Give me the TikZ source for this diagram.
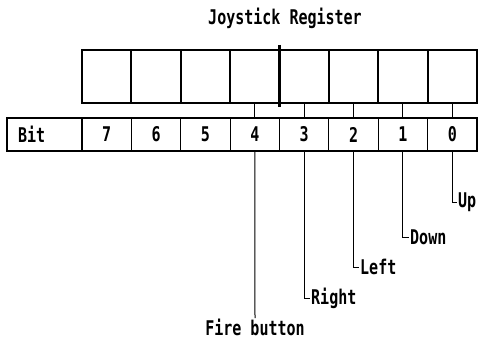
\documentclass[tikz,border=0pt]{standalone}
\usepackage{graphicx}
\usepackage{fontspec}
\setmainfont{DejaVu Sans Mono}
\newcommand\tallt[1]{\scalebox{1}[1.35]{#1}}
\begin{document}
\begin{tikzpicture}[x=1pt,y=-1pt,
  reg/.style={draw, line width=2.2pt, minimum width=49.375pt, minimum height=53pt, inner sep=0pt, outer sep=0pt, anchor=north west},
  bitc/.style={draw, line width=1.1pt, minimum width=49.375pt, minimum height=33pt, inner sep=0pt, outer sep=0pt, anchor=north west, font=\bfseries\fontsize{15}{15}\selectfont},
  lbl/.style={font=\bfseries\fontsize{15}{15}\selectfont, inner sep=1pt},
  conn/.style={line width=1pt}]
\useasboundingbox (0,0) rectangle (479,342);
% title
\node[lbl] (title) at (285,18) {\tallt{Joystick Register}};
% register cells
\foreach \i in {0,...,7}
  \node[reg] (r\i) at ({82+49.375*(7-\i)},50) {};
\draw[line width=3.5pt] ([yshift=5pt]r4.north east) -- ([yshift=-4pt]r4.south east);
% bit row
\node[bitc, minimum width=75pt, text width=53pt, inner xsep=11pt, align=left] (bit) at (7,118) {\tallt{Bit}};
\foreach \i in {0,...,7}
  \node[bitc] (b\i) at ({82+49.375*(7-\i)},118) {\tallt{\i}};
% connectors register -> bit row
\foreach \i in {0,...,4}
  \draw[conn] (r\i.south) -- (b\i.north);
% labels
\node[lbl, anchor=north, text depth=0pt] (fire) at (255,318) {\tallt{Fire button}};
\node[lbl, anchor=west] (right) at (310,298) {\tallt{Right}};
\node[lbl, anchor=west] (left) at (359,267) {\tallt{Left}};
\node[lbl, anchor=west] (down) at (409,237) {\tallt{Down}};
\node[lbl, anchor=west] (up) at (457,202) {\tallt{Up}};
\draw[conn] (b4.south) -- (fire.north);
\draw[conn] (b3.south) |- (right.west);
\draw[conn] (b2.south) |- (left.west);
\draw[conn] (b1.south) |- (down.west);
\draw[conn] (b0.south) |- (up.west);
\end{tikzpicture}
\end{document}
